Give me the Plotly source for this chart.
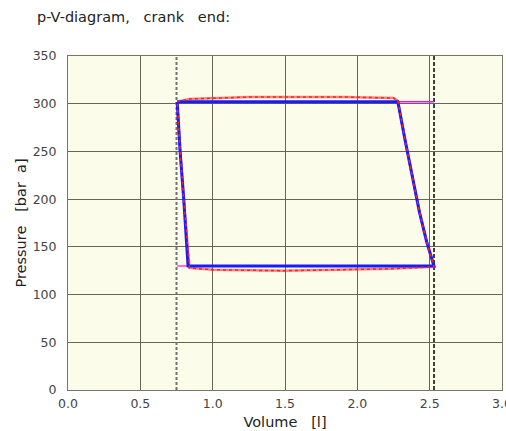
import plotly.graph_objects as go

# Model cycle (blue)
model_v = [0.755, 1.00, 1.50, 2.00, 2.28, 2.33, 2.38, 2.43, 2.48, 2.53, 2.00, 1.50, 1.00, 0.83, 0.80, 0.775, 0.755]
model_p = [302, 302, 302, 302, 302, 262, 222, 186, 155, 130, 130, 130, 130, 130, 200, 250, 302]

# Measured cycle (red, dotted)
meas_v = [0.755, 0.84, 1.26, 1.50, 1.90, 2.25, 2.28, 2.33, 2.38, 2.43, 2.48, 2.53, 2.22, 1.49, 1.00, 0.84, 0.80, 0.775, 0.755]
meas_p = [302, 305, 307, 307, 307, 306, 303, 262, 222, 186, 155, 129, 127, 125, 126, 128, 200, 250, 302]

# Valve lines (magenta)
disch_v = [2.28, 2.53]
disch_p = [302, 302]
suct_v = [0.755, 0.83]
suct_p = [130, 130]

# Dead-centre volumes
v_tdc = 0.75
v_bdc = 2.53

x_ticks = [0.0, 0.5, 1.0, 1.5, 2.0, 2.5, 3.0]
y_ticks = [0, 50, 100, 150, 200, 250, 300, 350]

FONT = "DejaVu Sans"
fig = go.Figure()

fig.add_trace(go.Scatter(x=[v_tdc, v_tdc], y=[0, 350], mode="lines",
                         line=dict(color="#707070", width=2, dash="3px,2px"), showlegend=False))
fig.add_trace(go.Scatter(x=[v_bdc, v_bdc], y=[0, 350], mode="lines",
                         line=dict(color="#000000", width=1.5, dash="4px,2px"), showlegend=False))
fig.add_trace(go.Scatter(x=disch_v, y=disch_p, mode="lines",
                         line=dict(color="#ff00ff", width=1.5), showlegend=False))
fig.add_trace(go.Scatter(x=suct_v, y=suct_p, mode="lines",
                         line=dict(color="#ff66dd", width=2), showlegend=False))
fig.add_trace(go.Scatter(x=meas_v, y=meas_p, mode="lines",
                         line=dict(color="#ff3030", width=2.5), opacity=0.6, showlegend=False))
fig.add_trace(go.Scatter(x=model_v, y=model_p, mode="lines",
                         line=dict(color="#1a1aff", width=3), showlegend=False))
fig.add_trace(go.Scatter(x=meas_v, y=meas_p, mode="lines",
                         line=dict(color="#ff2020", width=1.5, dash="dot"), showlegend=False))

fig.update_layout(
    width=506, height=431,
    margin=dict(l=68, r=4, t=56, b=41, autoexpand=False),
    paper_bgcolor="white",
    plot_bgcolor="#fcfcea",
    font=dict(family=FONT, size=12, color="#333333"),
    title=dict(text="p-V-diagram,\u00a0\u00a0\u00a0crank\u00a0\u00a0\u00a0end:",
               x=37/506, xanchor="left", xref="container",
               y=1-17/431, yanchor="middle", yref="container",
               font=dict(family=FONT, size=14.5, color="#222222")),
    xaxis=dict(range=[0, 3.0], tickvals=x_ticks, tickformat=".1f",
               showgrid=True, gridcolor="#666655", gridwidth=1,
               showline=True, linecolor="#777766", linewidth=1, mirror=True,
               zeroline=False, ticks="", ticklen=0, ticklabeloverflow="allow",
               ticklabelstandoff=2, automargin=False,
               title=dict(text="Volume\u00a0\u00a0\u00a0[l]", standoff=6,
                          font=dict(family=FONT, size=14.5, color="#222222")),
               tickfont=dict(family=FONT, size=12.5, color="#444444")),
    yaxis=dict(range=[0, 350], tickvals=y_ticks,
               showgrid=True, gridcolor="#666655", gridwidth=1,
               showline=True, linecolor="#777766", linewidth=1, mirror=True,
               zeroline=False, ticks="", ticklen=0, ticklabelstandoff=8,
               automargin=False,
               title=dict(text="Pressure\u00a0\u00a0\u00a0[bar\u00a0\u00a0a]", standoff=2,
                          font=dict(family=FONT, size=14.5, color="#222222")),
               tickfont=dict(family=FONT, size=12.5, color="#444444")),
)

fig.write_html("out.html")
